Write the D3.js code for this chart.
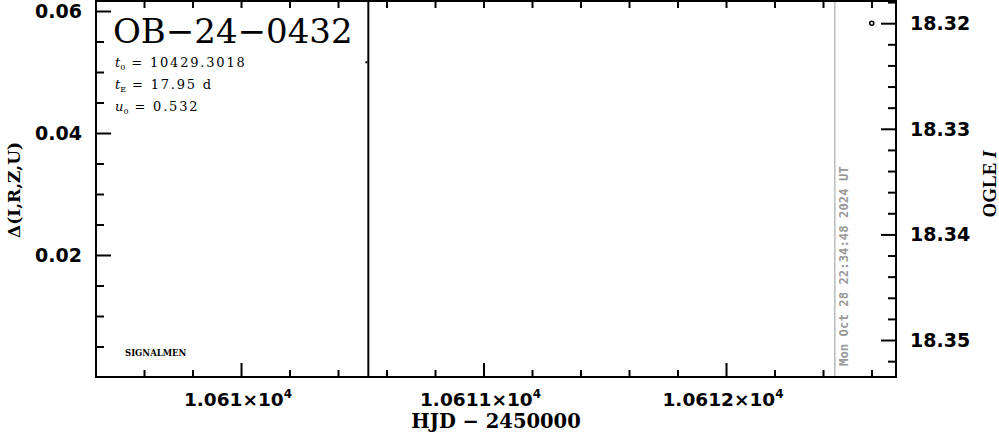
<!DOCTYPE html>
<html><head><meta charset="utf-8">
<script src="https://cdn.jsdelivr.net/npm/d3@7"></script>
<style>body{margin:0;background:#fff}svg{display:block}</style>
</head><body>
<svg id="chart" width="999" height="434"></svg>
<script>
// ---------- data ----------
const eventName = "OB\u221224\u22120432";
const paramSymbols = ["t", "t", "u"];
const paramSubs = ["0", "E", "0"];
const paramValues = ["= 10429.3018", "= 17.95 d", "= 0.532"];
const ogleHJD = [10612.601];
const ogleMag = [18.320];
const otherHJD = [10610.517];
const otherMag = [18.3237];
const markerHJD = [10610.525];
const nowHJD = [10612.449];
const nowLabel = "Mon Oct 28 22:34:48 2024 UT";
const xMajor = [10610, 10611, 10612];
const xMajorMant = ["1.061", "1.0611", "1.0612"];
const xMajorExp = ["4", "4", "4"];
const leftMajor = [0.02, 0.04, 0.06];
const leftLabels = ["0.02", "0.04", "0.06"];
const rightMajor = [18.32, 18.33, 18.34, 18.35];
const rightLabels = ["18.32", "18.33", "18.34", "18.35"];
const xDomain = [10609.402, 10612.701];
const leftDomain = [0, 0.06164];
const rightDomain = [18.3535, 18.3179];
const xLabel = "HJD \u2212 2450000";
const leftLabel = "\u0394(I,R,Z,U)";
const rightLabelMain = "OGLE ";
const rightLabelItalic = "I";
const credit = "SIGNALMEN";

// ---------- layout ----------
const L = 96, R = 896, T = 1, B = 377;
const svg = d3.select("#chart");
const x = d3.scaleLinear().domain(xDomain).range([L, R]);
const yL = d3.scaleLinear().domain(leftDomain).range([B, T]);
const yR = d3.scaleLinear().domain(rightDomain).range([B, T]);

const tickFont = "'DejaVu Sans', sans-serif";
const serif = "'DejaVu Serif', serif";

// minor tick values
const xMinor = d3.range(Math.ceil(xDomain[0] * 5), Math.floor(xDomain[1] * 5) + 1).map(v => v / 5)
  .filter(v => Math.abs(v - Math.round(v)) > 1e-6);
const lMinor = d3.range(1, 13).map(v => +(v * 0.005).toFixed(3))
  .filter(v => v < leftDomain[1] && !leftMajor.some(m => Math.abs(m - v) < 1e-6));
const rMinor = d3.range(0, 20).map(v => +(18.318 + v * 0.002).toFixed(3))
  .filter(v => v > rightDomain[1] && v < rightDomain[0] && !rightMajor.some(m => Math.abs(m - v) < 1e-6));

function axisG(gen, tx, ty) {
  const g = svg.append("g").attr("transform", `translate(${tx},${ty})`).call(gen);
  g.select(".domain").remove();
  g.selectAll("line").attr("stroke", "#000").attr("stroke-width", 2);
  g.selectAll("text").remove();
  return g;
}
// bottom
axisG(d3.axisBottom(x).tickValues(xMajor).tickSizeInner(-14).tickSizeOuter(0).tickFormat(""), 0, B);
axisG(d3.axisBottom(x).tickValues(xMinor).tickSizeInner(-7).tickSizeOuter(0).tickFormat(""), 0, B);
// top
axisG(d3.axisTop(x).tickValues(xMajor.concat(xMinor)).tickSizeInner(-7).tickSizeOuter(0).tickFormat(""), 0, T);
// left
axisG(d3.axisLeft(yL).tickValues(leftMajor).tickSizeInner(-15).tickSizeOuter(0).tickFormat(""), L, 0);
axisG(d3.axisLeft(yL).tickValues(lMinor).tickSizeInner(-8).tickSizeOuter(0).tickFormat(""), L, 0);
// right
axisG(d3.axisRight(yR).tickValues(rightMajor).tickSizeInner(-15).tickSizeOuter(0).tickFormat(""), R, 0);
axisG(d3.axisRight(yR).tickValues(rMinor).tickSizeInner(-8).tickSizeOuter(0).tickFormat(""), R, 0);

// frame
svg.append("rect").attr("x", L).attr("y", T).attr("width", R - L).attr("height", B - T)
  .attr("fill", "none").attr("stroke", "#000").attr("stroke-width", 2);

// tick labels
const xl = svg.append("g").selectAll("text").data(xMajor).join("text")
  .attr("x", d => x(d) - 3).attr("y", 406)
  .attr("text-anchor", "middle").attr("font-family", tickFont).attr("font-weight", "bold")
  .attr("font-size", 18.5).attr("fill", "#000");
xl.append("tspan").text((d, i) => xMajorMant[i] + "\u00d710");
xl.append("tspan").attr("dy", -8).attr("font-size", 12).text((d, i) => xMajorExp[i]);

svg.append("g").selectAll("text").data(leftMajor).join("text")
  .attr("x", 82).attr("y", d => yL(d)).attr("dy", "0.36em")
  .attr("text-anchor", "end").attr("font-family", tickFont).attr("font-weight", "bold")
  .attr("font-size", 19).attr("fill", "#000").text((d, i) => leftLabels[i]);

svg.append("g").selectAll("text").data(rightMajor).join("text")
  .attr("x", 910).attr("y", d => yR(d)).attr("dy", "0.36em")
  .attr("text-anchor", "start").attr("font-family", tickFont).attr("font-weight", "bold")
  .attr("font-size", 19).attr("fill", "#000").text((d, i) => rightLabels[i]);

// axis titles
svg.append("text").attr("x", 496).attr("y", 428).attr("text-anchor", "middle")
  .attr("font-family", serif).attr("font-weight", "bold").attr("font-size", 19.5).text(xLabel);
svg.append("text").attr("transform", "translate(20,190) rotate(-90)").attr("text-anchor", "middle")
  .attr("font-family", serif).attr("font-weight", "bold").attr("font-size", 17).text(leftLabel);
const rl = svg.append("text").attr("transform", "translate(996,184) rotate(-90)").attr("text-anchor", "middle")
  .attr("font-family", "'Liberation Serif', serif").attr("font-weight", "bold").attr("font-size", 19);
rl.append("tspan").text(rightLabelMain);
rl.append("tspan").attr("font-style", "italic").text(rightLabelItalic);

// vertical marker lines
svg.append("g").selectAll("line").data(markerHJD).join("line")
  .attr("x1", d => x(d)).attr("x2", d => x(d)).attr("y1", T).attr("y2", B)
  .attr("stroke", "#000").attr("stroke-width", 2);
svg.append("g").selectAll("line").data(nowHJD).join("line")
  .attr("x1", d => x(d)).attr("x2", d => x(d)).attr("y1", T + 1).attr("y2", B - 1)
  .attr("stroke", "#999").attr("stroke-width", 1);
svg.append("g").selectAll("text").data(nowHJD).join("text")
  .attr("transform", d => `translate(${x(d) + 13},366) rotate(-90)`)
  .attr("font-family", "'DejaVu Sans Mono', monospace").attr("font-weight", "bold")
  .attr("font-size", 12.3).attr("fill", "#999").text(nowLabel);

// data
svg.append("g").selectAll("circle").data(ogleHJD).join("circle")
  .attr("cx", d => x(d)).attr("cy", (d, i) => yR(ogleMag[i])).attr("r", 2)
  .attr("fill", "none").attr("stroke", "#000").attr("stroke-width", 1.6);
svg.append("g").selectAll("rect").data(otherHJD).join("rect")
  .attr("x", d => x(d) - 1).attr("y", (d, i) => yR(otherMag[i]) - 1).attr("width", 2).attr("height", 2)
  .attr("fill", "#000");

// title & parameters
svg.append("text").attr("x", 113).attr("y", 43).attr("font-family", serif).attr("font-size", 34)
  .attr("fill", "#000").text(eventName);
const pt = svg.append("g").selectAll("text").data(paramValues).join("text")
  .attr("x", 115).attr("y", (d, i) => 67 + i * 22)
  .attr("font-family", serif).attr("font-size", 13).attr("fill", "#000");
pt.append("tspan").attr("font-style", "italic").text((d, i) => paramSymbols[i]);
pt.append("tspan").attr("dy", 3).attr("font-size", 8).text((d, i) => paramSubs[i]);
pt.append("tspan").attr("dy", -3).attr("dx", 6).attr("letter-spacing", 1.8).text(d => d);

svg.append("text").attr("x", 125).attr("y", 356).attr("font-family", serif).attr("font-weight", "bold")
  .attr("font-size", 8.5).attr("fill", "#000").text(credit);
</script>
</body></html>
